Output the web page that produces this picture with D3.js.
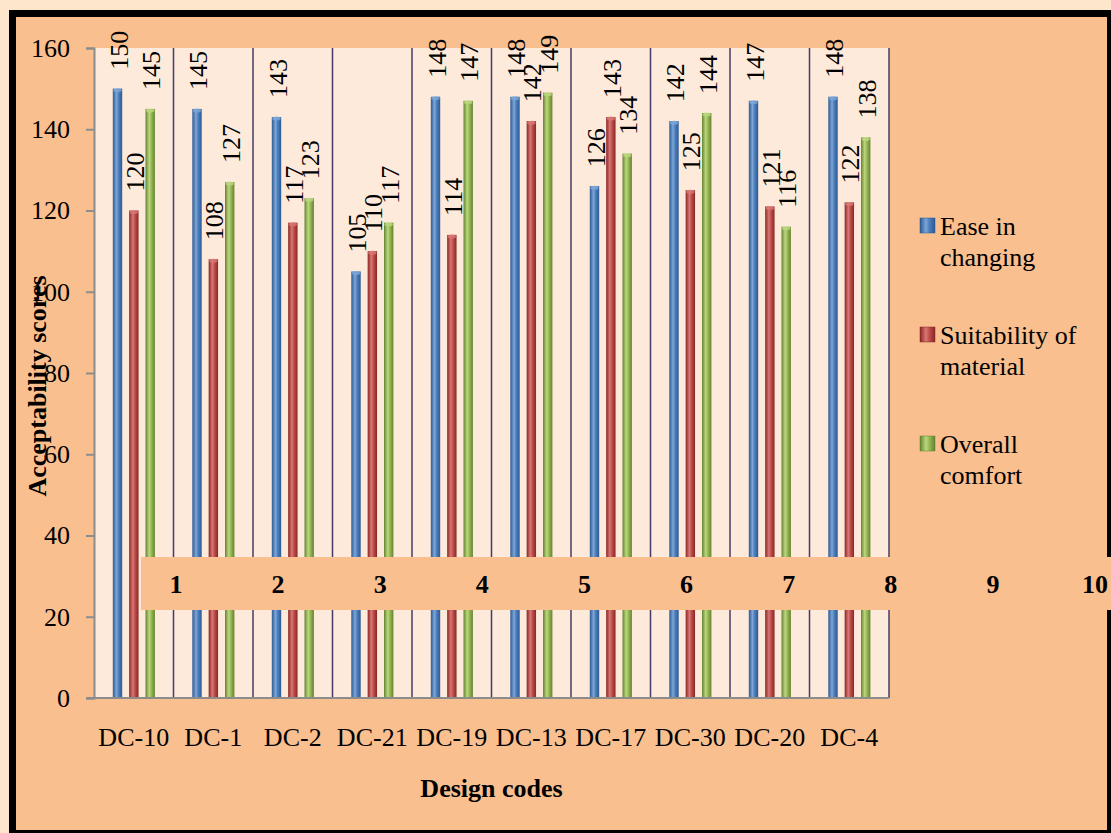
<!DOCTYPE html>
<html><head><meta charset="utf-8">
<script src="https://cdn.jsdelivr.net/npm/d3@7"></script>
<style>
html,body{margin:0;padding:0;background:#fde6cb;}
svg{display:block;}
</style></head>
<body>
<script>
const categories = ["DC-10","DC-1","DC-2","DC-21","DC-19","DC-13","DC-17","DC-30","DC-20","DC-4"];
const seriesNames = ["Ease in changing","Suitability of material","Overall comfort"];
const easeInChanging = [150,145,143,105,148,148,126,142,147,148];
const suitabilityOfMaterial = [120,108,117,110,114,142,143,125,121,122];
const overallComfort = [145,127,123,117,147,149,134,144,116,138];
const yTicks = [0,20,40,60,80,100,120,140,160];
const bandNumbers = ["1","2","3","4","5","6","7","8","9","10"];
const legendLines = [["Ease in","changing"],["Suitability of","material"],["Overall","comfort"]];

const FONT = "Liberation Serif";
const seriesValues = [easeInChanging, suitabilityOfMaterial, overallComfort];
const colors = [
  {edge:"#2b5a94", mid:"#4f81bd", hi:"#7ea6d8"},
  {edge:"#8a2624", mid:"#c0504d", hi:"#d97875"},
  {edge:"#64832f", mid:"#9bbb59", hi:"#bcd87f"}
];

const W = 1111, H = 833;
const svg = d3.select("body").append("svg").attr("width", W).attr("height", H)
  .style("font-family", FONT);
const defs = svg.append("defs");
colors.forEach((c,i)=>{
  const g = defs.append("linearGradient").attr("id","bg"+i).attr("x1","0").attr("x2","1").attr("y1","0").attr("y2","0");
  g.append("stop").attr("offset","0%").attr("stop-color",c.edge);
  g.append("stop").attr("offset","40%").attr("stop-color",c.hi);
  g.append("stop").attr("offset","60%").attr("stop-color",c.mid);
  g.append("stop").attr("offset","100%").attr("stop-color",c.edge);
});

// frame
svg.append("rect").attr("x",9).attr("y",10).attr("width",1110).attr("height",830).attr("fill","#000");
svg.append("rect").attr("x",16).attr("y",17).attr("width",1091).attr("height",813).attr("fill","#f9bf8f");

const pLeft = 94, pRight = 889, pTop = 48, pBottom = 698;
const x = d3.scaleBand().domain(categories).range([pLeft,pRight]).padding(0);
const xs = d3.scalePoint().domain(d3.range(3)).range([23.5,56.2]);
const y = d3.scaleLinear().domain([0,160]).range([pBottom,pTop]);
const barW = 9.4;

// plot area
svg.append("rect").attr("x",pLeft).attr("y",pTop).attr("width",pRight-pLeft).attr("height",pBottom-pTop).attr("fill","#fdeadb");
// vertical gridlines
svg.append("g").selectAll("line").data(categories.slice(1).concat(["__end"])).join("line")
  .attr("x1",d=> d==="__end"? pRight : x(d)).attr("x2",d=> d==="__end"? pRight : x(d))
  .attr("y1",pTop).attr("y2",pBottom).attr("stroke","#463a68").attr("stroke-width",1.5);

// bars
const data = [];
categories.forEach((c,ci)=>seriesValues.forEach((vals,si)=>data.push({c, si, v: vals[ci]})));
const bars = svg.append("g");
bars.selectAll("rect").data(data).join("rect")
  .attr("x",d=>x(d.c)+xs(d.si)-barW/2).attr("width",barW)
  .attr("y",d=>y(d.v)).attr("height",d=>y(0)-y(d.v))
  .attr("fill",d=>`url(#bg${d.si})`);
bars.selectAll("ellipse").data(data).join("ellipse")
  .attr("cx",d=>x(d.c)+xs(d.si)).attr("cy",d=>y(d.v)+1.5)
  .attr("rx",barW/2-0.5).attr("ry",2).attr("fill",d=>colors[d.si].hi).attr("opacity",0.8);

// value labels
svg.append("g").selectAll("text").data(data).join("text")
  .attr("transform",d=>`translate(${x(d.c)+xs(d.si)+1},${y(d.v)-19}) rotate(-90)`)
  .attr("dy","0.35em").style("font-family",FONT).style("font-size","26px").attr("fill","#000").text(d=>d.v);

// axes
const yAxis = svg.append("g").attr("transform",`translate(${pLeft},0)`)
  .call(d3.axisLeft(y).tickValues(yTicks).tickSize(8).tickPadding(16));
yAxis.select(".domain").attr("stroke","#8c8c8c").attr("stroke-width",2);
yAxis.selectAll(".tick line").attr("stroke","#8c8c8c").attr("stroke-width",2);
yAxis.selectAll(".tick text").style("font-size","26px").style("font-family",FONT).attr("fill","#000");

const xAxis = svg.append("g").attr("transform",`translate(0,${pBottom})`)
  .call(d3.axisBottom(x).tickSize(0).tickPadding(30));
xAxis.select(".domain").attr("stroke","#8c8c8c").attr("stroke-width",2).attr("d",`M${pLeft-8},0H${pRight}`);
xAxis.selectAll(".tick text").style("font-size","26px").style("font-family",FONT).attr("fill","#000");

// axis titles
svg.append("text").attr("x",(pLeft+pRight)/2).attr("y",797).attr("text-anchor","middle")
  .style("font-family",FONT).style("font-size","26px").style("font-weight","bold").text("Design codes");
svg.append("text").attr("transform","translate(46,386) rotate(-90)").attr("text-anchor","middle")
  .style("font-family",FONT).style("font-size","26px").style("font-weight","bold").text("Acceptability scores");

// legend
const lg = svg.append("g");
const legendY = d3.scalePoint().domain(d3.range(3)).range([235,453]);
legendLines.forEach((lines,i)=>{
  const yy = legendY(i);
  lg.append("rect").attr("x",920).attr("y",yy-17).attr("width",15).attr("height",15)
    .attr("fill",`url(#bg${i})`).attr("stroke",colors[i].edge).attr("stroke-width",0.5);
  lines.forEach((t,j)=>lg.append("text").attr("x",940).attr("y",yy+j*31)
    .style("font-family",FONT).style("font-size","26px").text(t));
});

// overlay band with numbers
svg.append("rect").attr("x",141).attr("y",557).attr("width",W-141).attr("height",53).attr("fill","#f9bf8f");
const nx = d3.scaleLinear().domain([0,9]).range([176,1095]);
svg.append("g").selectAll("text").data(bandNumbers).join("text")
  .attr("x",(d,i)=>nx(i)).attr("y",593).attr("text-anchor","middle")
  .style("font-family",FONT).style("font-size","26px").style("font-weight","bold").text(d=>d);
</script>
</body></html>
